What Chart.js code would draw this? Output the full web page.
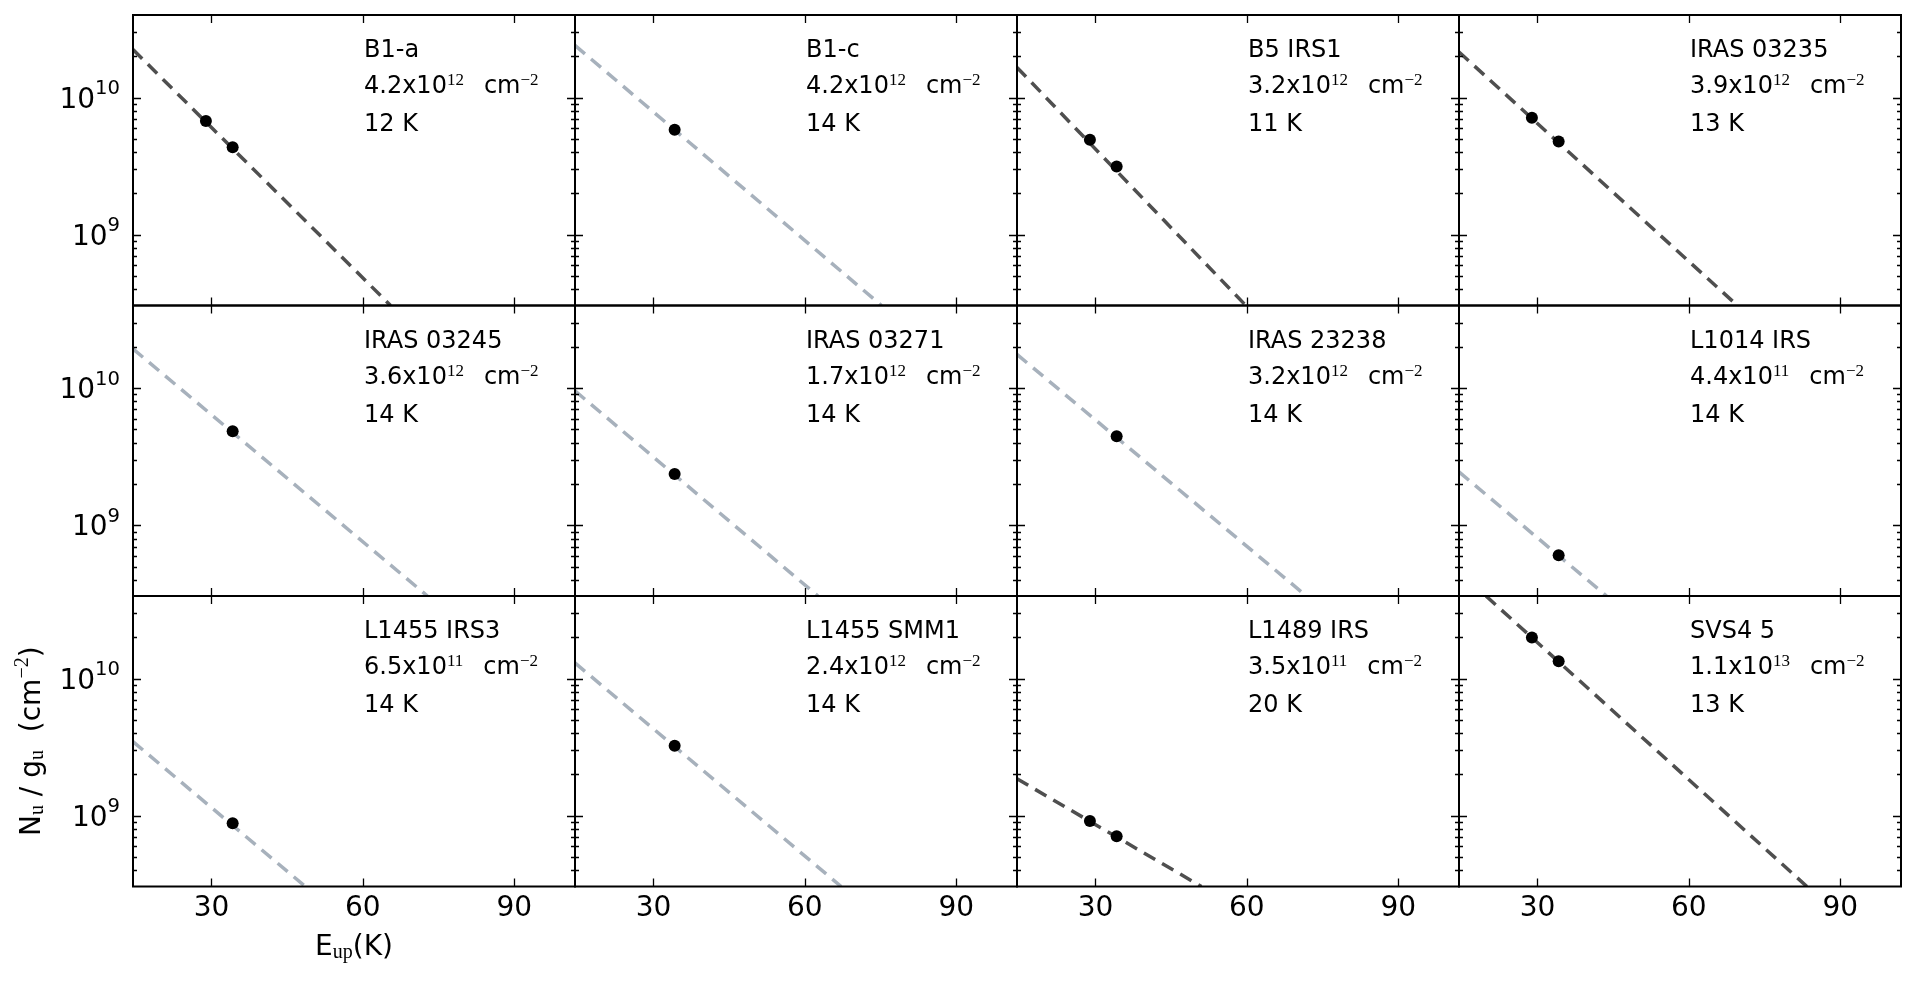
<!DOCTYPE html>
<html>
<head>
<meta charset="utf-8">
<script src="https://cdn.jsdelivr.net/npm/chart.js@4.4.1/dist/chart.umd.min.js"></script>
<style>
  body { margin: 0; background: #fff; }
  #fig { position: relative; width: 1916px; height: 983px; overflow: hidden;
         font-family: "DejaVu Sans", sans-serif; color: #000; }
  #fig canvas { position: absolute; }
  .txt { position: absolute; white-space: pre; line-height: 1; }
  .bl { display: inline-block; width: 0; height: 0; vertical-align: baseline; }
  .ann { font-size: 24px; }
  .ann sup { font-family: "Liberation Serif", serif; font-size: 17px; vertical-align: baseline; position: relative; top: -8px; }
  .ann .gap { display: inline-block; width: 20px; }
  .atitle { font-size: 28px; }
  .atitle sub { font-family: "Liberation Serif", serif; font-size: 20px; vertical-align: baseline; position: relative; top: 3px; }
  .atitle sup { font-family: "Liberation Serif", serif; font-size: 20px; vertical-align: baseline; position: relative; top: -12px; }
</style>
</head>
<body>
<div id="fig"></div>
<script>
// ---- data ----
const sources = ["B1-a", "B1-c", "B5 IRS1", "IRAS 03235", "IRAS 03245", "IRAS 03271",
                 "IRAS 23238", "L1014 IRS", "L1455 IRS3", "L1455 SMM1", "L1489 IRS", "SVS4 5"];
const colMantissa = ["4.2", "4.2", "3.2", "3.9", "3.6", "1.7", "3.2", "4.4", "6.5", "2.4", "3.5", "1.1"];
const colExponent = ["12", "12", "12", "12", "12", "12", "12", "11", "11", "12", "11", "13"];
const rotTemp = [12, 14, 11, 13, 14, 14, 14, 14, 14, 14, 20, 13];

// observed points: E_up (K) and N_u/g_u (cm^-2)
const eupObs = [[28.9, 34.2], [34.2], [28.9, 34.2], [28.9, 34.2], [34.2], [34.2],
                [34.2], [34.2], [34.2], [34.2], [28.9, 34.2], [28.9, 34.2]];
const nuguObs = [[6.75e9, 4.34e9], [5.82e9], [4.93e9, 3.14e9], [7.14e9, 4.78e9], [4.85e9], [2.36e9],
                 [4.45e9], [6.05e8], [8.83e8], [3.24e9], [9.14e8, 7.1e8], [1.99e10, 1.34e10]];

// rotational-diagram fits: where each dashed line enters and leaves the panel
const fitEup = [[14.45, 65.5], [14.45, 75.2], [14.45, 59.8], [14.45, 69.6], [14.45, 72.8], [14.45, 62.6],
                [14.45, 71.8], [14.45, 43.7], [14.45, 48.6], [14.45, 67.2], [14.45, 51.0], [19.8, 83.4]];
const fitNugu = [[2.24e10, 3.05e8], [2.40e10, 3.05e8], [1.66e10, 3.05e8], [2.15e10, 3.05e8],
                 [1.93e10, 3.05e8], [9.55e9, 3.05e8], [1.76e10, 3.05e8], [2.45e9, 3.05e8],
                 [3.47e9, 3.05e8], [1.30e10, 3.05e8], [1.86e9, 3.05e8], [4.0e10, 3.05e8]];

// axes
const eupRange = [14.45, 102.05];
const nuguRange = [3.05e8, 4.0e10];
const xTicks = [30, 60, 90];
const yTicks = [4e8, 5e8, 6e8, 7e8, 8e8, 9e8, 1e9, 2e9, 3e9, 4e9, 5e9, 6e9, 7e9, 8e9, 9e9, 1e10, 2e10, 3e10];
const yLabelTicks = [1e9, 1e10];

// ---- layout (px) ----
const FIG_H = 983;
const LEFT = 133, TOP = 15, PW = 442, PH = 290.5, M = 6;
const DARK = "#4f4f4f", LIGHT = "#a7b1bc";
const fig = document.getElementById("fig");

// inward ticks on all four sides + frame + y tick labels (10^n)
const frameTicks = {
    id: "frameTicks",
    afterDraw(chart, args, opts) {
        const { ctx, chartArea: a, scales: { x, y } } = chart;
        ctx.save();
        ctx.strokeStyle = "#000";
        ctx.lineWidth = 1.3;
        ctx.beginPath();
        xTicks.forEach(v => {
            const px = Math.round(x.getPixelForValue(v)) + 0.5;
            ctx.moveTo(px, a.bottom); ctx.lineTo(px, a.bottom - 8);
            ctx.moveTo(px, a.top); ctx.lineTo(px, a.top + 8);
        });
        yTicks.forEach(v => {
            const py = Math.round(y.getPixelForValue(v)) + 0.5;
            const len = yLabelTicks.includes(v) ? 8 : 4;
            ctx.moveTo(a.left, py); ctx.lineTo(a.left + len, py);
            ctx.moveTo(a.right, py); ctx.lineTo(a.right - len, py);
        });
        ctx.stroke();
        ctx.lineWidth = 2;
        ctx.strokeRect(a.left, a.top, a.right - a.left, a.bottom - a.top);

        if (opts.yLabels) {
            ctx.fillStyle = "#000";
            ctx.textAlign = "left";
            ctx.textBaseline = "alphabetic";
            yLabelTicks.forEach(v => {
                const py = y.getPixelForValue(v);
                const exp = String(Math.round(Math.log10(v)));
                ctx.font = '28px "DejaVu Sans"';
                const wb = ctx.measureText("10").width;
                ctx.font = '19.6px "DejaVu Sans"';
                const we = ctx.measureText(exp).width;
                const x0 = a.left - 13 - we - wb;
                ctx.font = '28px "DejaVu Sans"';
                ctx.fillText("10", x0, py + 10);
                ctx.font = '19.6px "DejaVu Sans"';
                ctx.fillText(exp, x0 + wb, py - 3.3);
            });
        }
        ctx.restore();
    }
};

// text placed by its baseline
function placeText(html, cls, x, baseY, align) {
    const el = document.createElement("div");
    el.className = "txt " + cls;
    el.innerHTML = '<span class="bl"></span>' + html;
    fig.appendChild(el);
    const b = el.querySelector(".bl").offsetTop;
    const w = el.offsetWidth;
    el.style.top = (baseY - b) + "px";
    el.style.left = (align === "center" ? x - w / 2 : x) + "px";
    return { el, b, w };
}

sources.forEach((name, i) => {
    const c = i % 4, r = Math.floor(i / 4);
    const chartL = LEFT + c * PW, chartT = TOP + r * PH;
    const chartR = chartL + PW, chartB = chartT + PH;

    const cvL = c === 0 ? 0 : chartL - M;
    const cvT = Math.floor(r === 0 ? 0 : chartT - M);
    const cvR = Math.ceil(chartR + M);
    const cvB = r === 2 ? FIG_H : Math.ceil(chartB + M);

    const yAxisW = c === 0 ? chartL : 0;
    const xAxisH = r === 2 ? FIG_H - chartB : 0;

    const canvas = document.createElement("canvas");
    canvas.width = cvR - cvL;
    canvas.height = cvB - cvT;
    canvas.style.left = cvL + "px";
    canvas.style.top = cvT + "px";
    fig.appendChild(canvas);

    const twoLines = eupObs[i].length > 1;

    new Chart(canvas, {
        type: "scatter",
        data: {
            datasets: [
                {
                    data: eupObs[i].map((e, k) => ({ x: e, y: nuguObs[i][k] })),
                    pointRadius: 6,
                    pointBackgroundColor: "#000",
                    pointBorderWidth: 0,
                    showLine: false
                },
                {
                    type: "line",
                    data: fitEup[i].map((e, k) => ({ x: e, y: fitNugu[i][k] })),
                    borderColor: twoLines ? DARK : LIGHT,
                    borderWidth: 3.5,
                    borderDash: [13, 8],
                    borderCapStyle: "butt",
                    pointRadius: 0,
                    fill: false,
                    tension: 0,
                    clip: 0
                }
            ]
        },
        options: {
            responsive: false,
            animation: false,
            events: [],
            layout: {
                autoPadding: false,
                padding: {
                    left: c === 0 ? 0 : chartL - cvL,
                    top: chartT - cvT,
                    right: cvR - chartR,
                    bottom: r === 2 ? 0 : cvB - chartB
                }
            },
            plugins: {
                legend: { display: false },
                tooltip: { enabled: false },
                frameTicks: { yLabels: c === 0 }
            },
            scales: {
                x: {
                    type: "linear",
                    position: "bottom",
                    min: eupRange[0],
                    max: eupRange[1],
                    afterBuildTicks: s => { s.ticks = xTicks.map(v => ({ value: v })); },
                    afterFit: s => { s.height = xAxisH; },
                    grid: { display: false, drawTicks: false },
                    border: { display: false },
                    ticks: {
                        display: r === 2,
                        color: "#000",
                        font: { family: "DejaVu Sans", size: 28 },
                        padding: 5,
                        maxRotation: 0,
                        autoSkip: false
                    }
                },
                y: {
                    type: "logarithmic",
                    position: "left",
                    min: nuguRange[0],
                    max: nuguRange[1],
                    afterBuildTicks: s => { s.ticks = yTicks.map(v => ({ value: v })); },
                    afterFit: s => { s.width = yAxisW; },
                    grid: { display: false, drawTicks: false },
                    border: { display: false },
                    ticks: { display: false }
                }
            }
        },
        plugins: [frameTicks]
    });

    // annotation block
    const tx = chartL + 231;
    placeText(name, "ann", tx, chartT + 42);
    placeText(colMantissa[i] + "x10<sup>" + colExponent[i] + "</sup><span class=\"gap\"></span>cm<sup>\u22122</sup>", "ann", tx, chartT + 78);
    placeText(rotTemp[i] + " K", "ann", tx, chartT + 116);
});

// axis titles of the bottom-left panel
const blT = TOP + 2 * PH;
placeText("E<sub>up</sub>(K)", "atitle", LEFT + PW / 2, 955, "center");

const yt = placeText("N<sub>u</sub> / g<sub>u</sub>  (cm<sup>\u22122</sup>)", "atitle", 0, 0);
const ytBase = blT + PH / 2 + yt.w / 2;
yt.el.style.left = "40px";
yt.el.style.top = (ytBase - yt.b) + "px";
yt.el.style.transformOrigin = "0px " + yt.b + "px";
yt.el.style.transform = "rotate(-90deg)";
</script>
</body>
</html>
